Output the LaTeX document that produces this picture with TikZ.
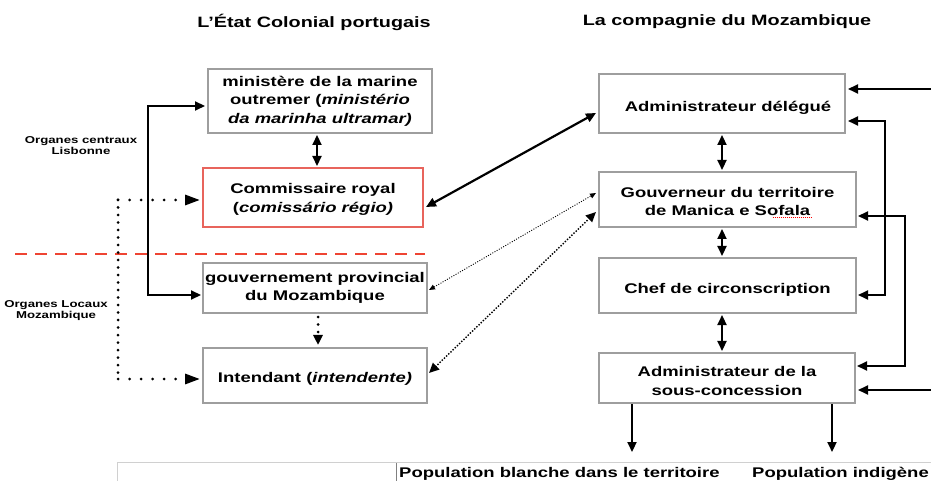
\documentclass[tikz,border=0pt]{standalone}
\usepackage{fontspec}
\setmainfont{Liberation Sans}[FakeStretch=1.32]
\usetikzlibrary{arrows.meta,calc}
\definecolor{boxgray}{HTML}{9E9E9E}
\definecolor{boxred}{HTML}{E8645C}
\definecolor{dashred}{HTML}{EE4433}
\definecolor{tablegray}{HTML}{D0D0D0}
\begin{document}
\begin{tikzpicture}[x=1bp,y=-1bp,
  box/.style={draw=boxgray,line width=2bp,fill=white,inner sep=0bp},
  redbox/.style={box,draw=boxred},
  boxtext/.style={align=center,inner sep=0bp,font=\fontsize{14bp}{18.5bp}\selectfont\bfseries},
  title/.style={font=\fontsize{15bp}{18bp}\selectfont\bfseries,inner sep=0bp},
  side/.style={font=\fontsize{10bp}{11bp}\selectfont\bfseries,align=center,inner sep=0bp},
  bottomtext/.style={font=\fontsize{14bp}{17bp}\selectfont\bfseries,inner sep=0bp,anchor=base west},
  tipone/.style={-{Triangle[length=10bp,width=9bp]}},
  tipboth/.style={{Triangle[length=10bp,width=9bp]}-{Triangle[length=10bp,width=9bp]}},
  tiplong/.style={-{Triangle[length=15bp,width=10bp]}},
  tipsmall/.style={{Triangle[length=6bp,width=5bp]}-{Triangle[length=6bp,width=5bp]}},
  link/.style={line width=2.2bp},
  hdots/.style={line width=3bp,line cap=round,dash pattern=on 0bp off 11.5bp},
  vdots/.style={line width=3bp,line cap=round,dash pattern=on 0bp off 7.5bp},
  middots/.style={line width=2bp,line cap=round,dash pattern=on 0bp off 3bp},
  thindots/.style={line width=0.9bp,dash pattern=on 1bp off 1.5bp},
]
\useasboundingbox (0,0) rectangle (931,481);

% titles
\node[title] (T1) at (314,22) {L’État Colonial portugais};
\node[title] (T2) at (727,22) {La compagnie du Mozambique};

% side labels
\node[side] (L1) at (81,146) {Organes centraux\\Lisbonne};
\node[side] (L2) at (56,311) {Organes Locaux\\Mozambique};

% red dashed separator
\coordinate (sepA) at (15,254);
\coordinate (sepB) at (425,254);
\draw[dashred,line width=2.6bp,dash pattern=on 12bp off 8bp] (sepA) -- (sepB);

% left column
\node[box,minimum width=224bp,minimum height=64bp] (B1) at (320,101) {};
\node[boxtext] (B1t) at ([yshift=0bp]B1.center)
  {ministère de la marine\\outremer (\textit{ministério}\\\textit{da marinha ultramar)}};
\node[redbox,minimum width=220bp,minimum height=59bp] (B2) at (313,197.5) {};
\node[boxtext] (B2t) at ([yshift=-2bp]B2.center) {Commissaire royal\\(\textit{comissário régio)}};
\node[box,minimum width=224bp,minimum height=50bp] (B3) at (315,288) {};
\node[boxtext] (B3t) at ([yshift=0bp]B3.center) {gouvernement provincial\\du Mozambique};
\node[box,minimum width=224bp,minimum height=55bp] (B4) at (315,375.5) {};
\node[boxtext] (B4t) at ([yshift=-3bp]B4.center) {Intendant (\textit{intendente)}};

% right column
\node[box,minimum width=246bp,minimum height=59bp] (R1) at (722,103.5) {};
\node[boxtext] (R1t) at ([xshift=6bp,yshift=-4bp]R1.center) {Administrateur délégué};
\node[box,minimum width=257bp,minimum height=55bp] (R2) at (727.5,199.5) {};
\node[boxtext] (R2t) at ([yshift=-2bp]R2.center) {Gouverneur du territoire\\de Manica e Sofala};
\node[box,minimum width=257bp,minimum height=55bp] (R3) at (727.5,285.5) {};
\node[boxtext] (R3t) at ([yshift=-4bp]R3.center) {Chef de circonscription};
\node[box,minimum width=256bp,minimum height=50bp] (R4) at (727,378) {};
\node[boxtext] (R4t) at ([yshift=-3bp]R4.center) {Administrateur de la\\sous-concession};

% spell-check squiggle under Sofala
\coordinate (sqA) at ($(R2t.south)+(45,1)$);
\coordinate (sqB) at ($(R2t.south)+(84,1)$);
\draw[red,line width=0.8bp,dash pattern=on 1bp off 1bp] (sqA) -- (sqB);

% vertical links, left
\draw[link,tipboth,shorten <=1bp,shorten >=1bp] ([xshift=-3bp]B1.south) -- ([xshift=-3bp]B1.south |- B2.north);
\draw[vdots,tipone,shorten <=3bp,shorten >=2bp] ([xshift=3bp]B3.south) -- ([xshift=3bp]B3.south |- B4.north);

% vertical links, right
\draw[link,tipboth,shorten <=1bp,shorten >=1bp] (R1.south) -- (R1.south |- R2.north);
\draw[link,tipboth,shorten <=1bp,shorten >=1bp] (R1.south |- R2.south) -- (R1.south |- R3.north);
\draw[link,tipboth,shorten <=1bp,shorten >=1bp] (R1.south |- R3.south) -- (R1.south |- R4.north);

% left solid bracket
\coordinate (lb) at (148,0);
\coordinate (b1in) at ($(B1.west)+(-2,5)$);
\coordinate (b3in) at ($(B3.west)+(-1,7)$);
\draw[link,tipboth] (b1in) -- (b1in -| lb) -- (b3in -| lb) -- (b3in);

% left dotted bracket
\coordinate (ld) at (118,0);
\coordinate (b2in) at ($(B2.west)+(-2,2.5)$);
\coordinate (b4in) at ($(B4.west)+(-2,3.5)$);
\draw[hdots,tiplong] (b2in -| ld) -- (b2in);
\draw[vdots] (b2in -| ld) -- (b4in -| ld);
\draw[hdots,tiplong] (b4in -| ld) -- (b4in);

% cross links
\draw[link,tipboth] ($(B2.east)+(2,9.5)$) -- ($(R1.west)+(-2,9.5)$);
\draw[thindots,tipsmall] ($(B3.east)+(1,2)$) -- ($(R2.west)+(-2,-6.5)$);
\draw[middots,tipboth] ($(B4.east)+(1,-2.5)$) -- ($(R2.west)+(-2,12.5)$);

% right side links
\coordinate (rin1) at (931,89);
\coordinate (rin2) at (931,390);
\coordinate (ra) at (885,0);
\coordinate (rb) at (905,0);
\draw[link,tipone] (rin1) -- ($(R1.east |- rin1)+(2,0)$);
\draw[link,tipone] (rin2) -- ($(R4.east |- rin2)+(2,0)$);
\coordinate (r1in) at ($(R1.east)+(2,17.5)$);
\coordinate (r3in) at ($(R3.east)+(1,9.5)$);
\coordinate (r2in) at ($(R2.east)+(1,16.5)$);
\coordinate (r4in) at ($(R4.east)+(1,-12)$);
\draw[link,tipboth] (r1in) -- (r1in -| ra) -- (r3in -| ra) -- (r3in);
\draw[link,tipboth] (r2in) -- (r2in -| rb) -- (r4in -| rb) -- (r4in);

% down to the populations
\coordinate (pd1) at (632,452);
\coordinate (pd2) at (832,452);
\draw[link,tipone] (R4.south -| pd1) -- (pd1);
\draw[link,tipone] (R4.south -| pd2) -- (pd2);

% bottom table
\coordinate (tbA) at (117,462);
\coordinate (tbB) at (931,462);
\coordinate (tbC) at (117,481);
\coordinate (tbD) at (396,463);
\coordinate (tbE) at (396,481);
\draw[tablegray,line width=1bp] (tbC) -- (tbA) -- (tbB);
\draw[gray,line width=0.8bp] (tbD) -- (tbE);
\node[bottomtext] (P1) at (399,477) {Population blanche dans le territoire};
\node[bottomtext] (P2) at (752,477) {Population indigène};
\end{tikzpicture}
\end{document}
